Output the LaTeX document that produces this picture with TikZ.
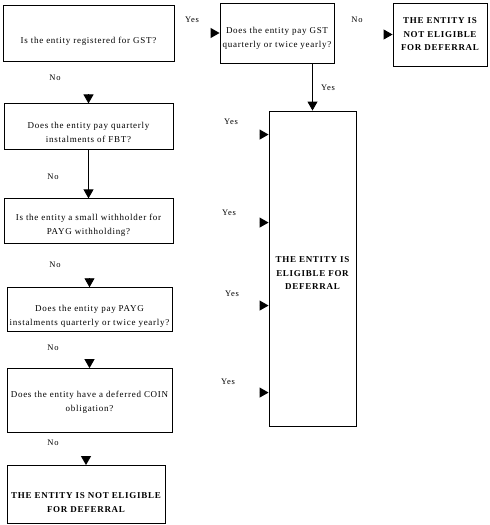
\documentclass[tikz,border=0pt]{standalone}
\usepackage{fontspec}
\setmainfont{Liberation Serif}
\newfontfamily\chartfont[LetterSpace=8]{Liberation Serif}
\usepackage{tikz}
\usetikzlibrary{arrows.meta,positioning}

\begin{document}
\begin{tikzpicture}[x=1pt,y=-1pt,>={Triangle[width=10pt,length=9pt]},line width=0.9pt]
  \tikzstyle{question}=[rectangle,draw=black,line width=0.9pt,inner sep=0pt]
  \tikzstyle{asktext}=[align=center,inner sep=0pt,font=\chartfont\fontsize{9}{14}\selectfont]
  \tikzstyle{verdict}=[align=center,inner sep=0pt,font=\chartfont\bfseries\fontsize{9}{13.5}\selectfont]
  \tikzstyle{answer}=[inner sep=0pt,font=\chartfont\fontsize{8.5}{10}\selectfont]

  \useasboundingbox (0,0) rectangle (490,525);

  % Questions
  \node [question, minimum width=171pt, minimum height=56pt] (gst) at (88.5,33) {};
  \node [question, minimum width=169pt, minimum height=46pt, below=42pt of gst] (fbt) {};
  \node [question, minimum width=169pt, minimum height=45pt, below=48pt of fbt] (withhold) {};
  \node [question, minimum width=165pt, minimum height=44pt, below=43pt of withhold, xshift=1pt] (payg) {};
  \node [question, minimum width=165pt, minimum height=64pt, below=36pt of payg] (coin) {};
  \node [question, minimum width=114pt, minimum height=60pt] (ask) at (277,33) {};

  % Outcomes
  \node [question, verdict, minimum width=94pt, minimum height=63pt] (notelig) at (440,34.5)
    {THE ENTITY IS\\NOT ELIGIBLE\\FOR DEFERRAL};
  \node [question, minimum width=87pt, minimum height=315pt] (elig) at (312.5,268.5) {};
  \node [question, minimum width=158pt, minimum height=58pt, below=32pt of coin, xshift=-3.5pt] (noteligb) {};

  % Box texts
  \node [asktext] (gsttxt) at ([yshift=-8pt]gst.center) {Is the entity registered for GST?};
  \node [asktext] (asktxt) at ([yshift=-5pt]ask.center) {Does the entity pay GST\\quarterly or twice yearly?};
  \node [asktext] (fbttxt) at ([yshift=-6pt]fbt.center) {Does the entity pay quarterly\\instalments of FBT?};
  \node [asktext] (withholdtxt) at ([yshift=-4pt]withhold.center) {Is the entity a small withholder for\\PAYG withholding?};
  \node [asktext] (paygtxt) at ([yshift=-7pt]payg.center) {Does the entity pay PAYG\\instalments quarterly or twice yearly?};
  \node [asktext] (cointxt) at ([yshift=-2pt]coin.center) {Does the entity have a deferred COIN\\obligation?};
  \node [verdict] (eligtxt) at ([yshift=-5pt]elig.center) {THE ENTITY IS\\ELIGIBLE FOR\\DEFERRAL};
  \node [verdict] (noteligbtxt) at ([yshift=-8pt]noteligb.center) {THE ENTITY IS NOT ELIGIBLE\\FOR DEFERRAL};

  % Arcs
  \draw [->] ([xshift=-9pt]ask.west) -- (ask.west);
  \draw [->] ([xshift=-9pt]notelig.west) -- (notelig.west);
  \draw [->] (ask.south -| elig.north) -- (elig.north);
  \draw [->] ([yshift=9pt]fbt.north) -- (fbt.north);
  \draw [->] (fbt) -- (withhold);
  \draw [->] ([yshift=9pt]payg.north) -- (payg.north);
  \draw [->] ([yshift=9pt]coin.north) -- (coin.north);
  \draw [->] ([yshift=9pt]noteligb.north) -- (noteligb.north);
  \foreach \d in {24,112,195,282}
    \draw [->] ([xshift=-9pt,yshift=-\d pt]elig.north west) -- ([yshift=-\d pt]elig.north west);

  % Answers
  \node [answer] (yes1) at (192,20) {Yes};
  \node [answer] (no1) at (357,20) {No};
  \node [answer] (yes2) at (328,88) {Yes};
  \node [answer] (yes3) at (231,122) {Yes};
  \node [answer] (yes4) at (229,213) {Yes};
  \node [answer] (yes5) at (232,294) {Yes};
  \node [answer] (yes6) at (228,382) {Yes};
  \node [answer] (no2) at (55,78) {No};
  \node [answer] (no3) at (53,177) {No};
  \node [answer] (no4) at (55,265) {No};
  \node [answer] (no5) at (53,348) {No};
  \node [answer] (no6) at (53,443) {No};
\end{tikzpicture}
\end{document}
